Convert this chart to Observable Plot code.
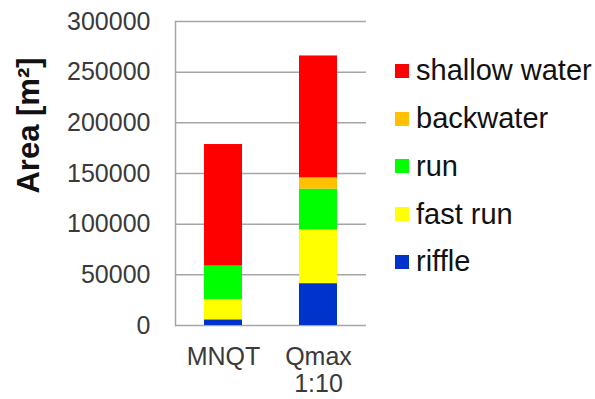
<!DOCTYPE html>
<html>
<head>
<meta charset="utf-8">
<script src="https://cdn.jsdelivr.net/npm/d3@7"></script>
<script src="https://cdn.jsdelivr.net/npm/@observablehq/plot@0.6"></script>
<style>
  html, body { margin: 0; padding: 0; background: #fff; }
  #wrap { position: relative; width: 595px; height: 399px; overflow: hidden; font-family: "Liberation Sans", Arial, sans-serif; }
  #legend { position: absolute; left: 395px; top: 47px; }
  .item { height: 47.75px; display: flex; align-items: center; font-size: 29px; color: #111; white-space: nowrap; }
  .sw { width: 14px; height: 14px; margin-right: 7px; flex: none; }
</style>
</head>
<body>
<div id="wrap"></div>
<script>
const categories = ["MNQT", "Qmax\n1:10"];
const habitats = ["riffle", "fast run", "run", "backwater", "shallow water"];
const colors = ["#0033CC", "#FFFF00", "#00FF00", "#FFC000", "#FF0000"];
const mnqtValues = [5600, 20000, 33000, 0, 120000];
const qmaxValues = [41300, 53000, 40300, 11100, 120300];
const yTicks = [0, 50000, 100000, 150000, 200000, 250000, 300000];
const yLabel = "Area [m²]";

const data = habitats.flatMap((h, i) => [
  {cat: categories[0], habitat: h, area: mnqtValues[i]},
  {cat: categories[1], habitat: h, area: qmaxValues[i]}
]);

const chart = Plot.plot({
  width: 595,
  height: 399,
  marginLeft: 175,
  marginRight: 229,
  marginTop: 21,
  marginBottom: 74,
  style: {fontFamily: "'Liberation Sans', Arial, sans-serif", background: "white"},
  x: {domain: categories, paddingInner: 0.602, paddingOuter: 0.301},
  y: {domain: [0, 300000]},
  color: {domain: habitats, range: colors},
  marks: [
    Plot.ruleY(yTicks, {stroke: "#a6a6a6", strokeWidth: 1.5}),
    Plot.frame({anchor: "left", stroke: "#a6a6a6", strokeWidth: 1.5}),
    Plot.barY(data, Plot.stackY({order: habitats, x: "cat", y: "area", fill: "habitat"})),
    Plot.axisY({ticks: yTicks, tickSize: 0, tickPadding: 25, tickFormat: d3.format("d"), fontSize: 25, fill: "#3a3a3a", label: null}),
    Plot.axisX({tickSize: 0, tickPadding: 20, fontSize: 25, lineHeight: 1.08, fill: "#3a3a3a", label: null}),
    Plot.text([yLabel], {frameAnchor: "left", dx: -146, dy: -48, rotate: -90, textAnchor: "middle", fontSize: 31, fontWeight: "bold", fill: "#111"})
  ]
});

const wrap = document.getElementById("wrap");
wrap.appendChild(chart);

const legend = document.createElement("div");
legend.id = "legend";
habitats.slice().reverse().forEach(h => {
  const item = document.createElement("div");
  item.className = "item";
  const sw = document.createElement("span");
  sw.className = "sw";
  sw.style.background = colors[habitats.indexOf(h)];
  const label = document.createElement("span");
  label.textContent = h;
  item.appendChild(sw);
  item.appendChild(label);
  legend.appendChild(item);
});
wrap.appendChild(legend);
</script>
</body>
</html>
